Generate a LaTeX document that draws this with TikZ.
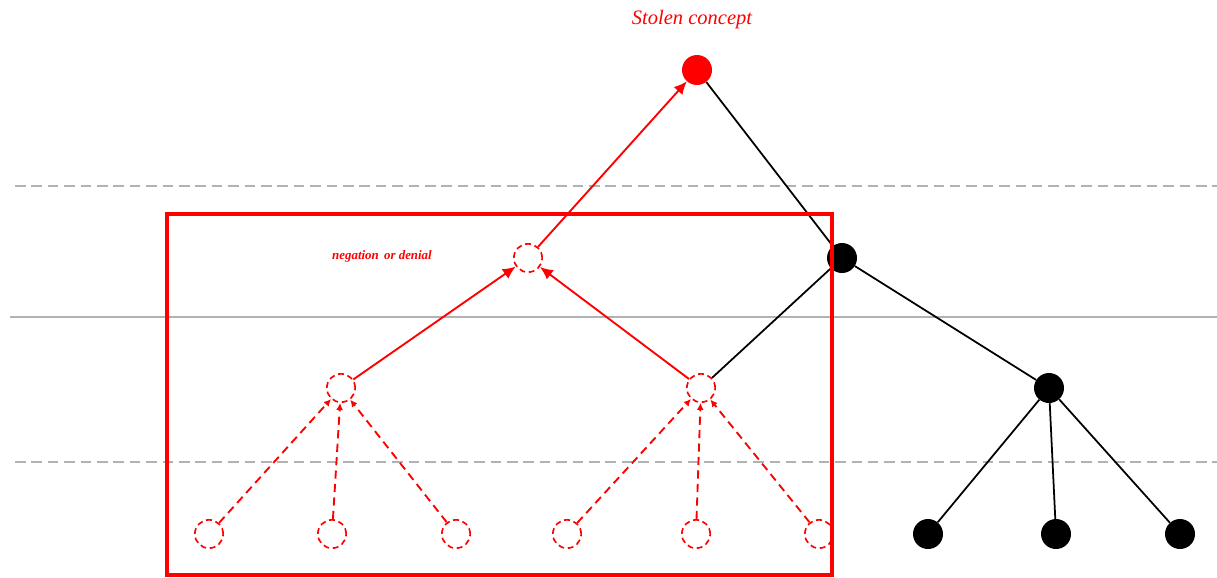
\documentclass[tikz,border=0pt]{standalone}
\usepackage{fontspec}
\setmainfont{Liberation Serif}
\usetikzlibrary{arrows.meta}
\begin{document}
\begin{tikzpicture}[x=0.03cm,y=-0.03cm,
  blk/.style={circle,fill=black,inner sep=0pt,minimum size=0.9cm},
  redf/.style={circle,fill=red,inner sep=0pt,minimum size=0.9cm},
  rdash/.style={circle,draw=red,dash pattern=on 5pt off 3.2pt,line width=1.4pt,inner sep=0pt,minimum size=0.85cm},
  bedge/.style={line width=1.5pt,black},
  redge/.style={line width=1.6pt,red,-{Latex[length=11pt,width=10pt]}},
  rdedge/.style={line width=1.6pt,red,dash pattern=on 7pt off 4.5pt,-{Latex[length=6pt,width=6pt]}},
  grid/.style={line width=1.6pt,gray!60}]
\useasboundingbox (0,0) rectangle (1217,577);
\draw[grid,dash pattern=on 9pt off 5pt] (15,186) -- (1217,186);
\draw[grid] (10,317) -- (1217,317);
\draw[grid,dash pattern=on 9pt off 5pt] (15,462) -- (1217,462);

\node[redf] (top) at (697,70) {};
\node[text=red,font=\itshape\fontsize{17.5}{20}\selectfont] (lbl) at (692,20) {Stolen concept};
\node[rdash] (neg) at (528,258) {};
\node[blk] (b1) at (842,258) {};
\node[text=red,font=\bfseries\itshape\fontsize{11}{13}\selectfont] (nlbl) at (382,256) {negation\,\ or denial};
\node[rdash] (m1) at (341,388) {};
\node[rdash] (m2) at (701,388) {};
\node[blk] (b2) at (1049,388) {};
\node[rdash] (l1) at (209,534) {};
\node[rdash] (l2) at (332,534) {};
\node[rdash] (l3) at (456,534) {};
\node[rdash] (l4) at (567,534) {};
\node[rdash] (l5) at (696,534) {};
\node[rdash] (l6) at (819,534) {};
\node[blk] (k1) at (928,534) {};
\node[blk] (k2) at (1056,534) {};
\node[blk] (k3) at (1180,534) {};

\draw[bedge] (top) -- (b1);
\draw[bedge] (b1) -- (m2);
\draw[bedge] (b1) -- (b2);
\draw[bedge] (b2) -- (k1);
\draw[bedge] (b2) -- (k2);
\draw[bedge] (b2) -- (k3);

\draw[redge] (neg) -- (top);
\draw[redge] (m1) -- (neg);
\draw[redge] (m2) -- (neg);
\draw[rdedge] (l1) -- (m1);
\draw[rdedge] (l2) -- (m1);
\draw[rdedge] (l3) -- (m1);
\draw[rdedge] (l4) -- (m2);
\draw[rdedge] (l5) -- (m2);
\draw[rdedge] (l6) -- (m2);

\draw[red,line width=3.4pt] (167,575) -- (167,214) -- (832,214) -- (832,575) -- cycle;
\end{tikzpicture}
\end{document}
